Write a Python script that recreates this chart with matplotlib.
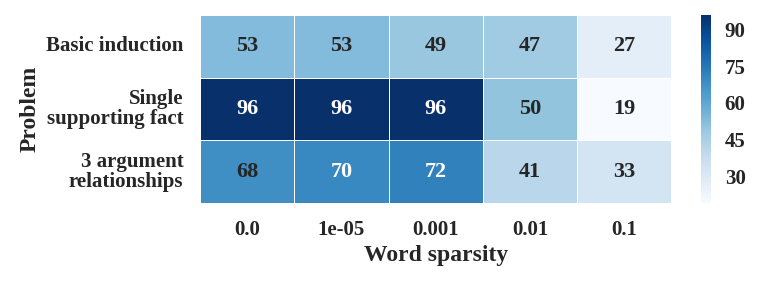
import matplotlib
matplotlib.use("Agg")
import matplotlib.pyplot as plt
import seaborn as sns
import numpy as np
import pandas as pd

problems = ["Basic induction", "Single\nsupporting fact", "3 argument\nrelationships"]
sparsity = ["0.0", "1e-05", "0.001", "0.01", "0.1"]
basic_induction = [53, 53, 49, 47, 27]
single_fact = [96, 96, 96, 50, 19]
three_arg = [68, 70, 72, 41, 33]

sns.set_theme(style="white")
plt.rcParams['font.family'] = ['Liberation Serif', 'DejaVu Serif']
plt.rcParams['font.weight'] = 'bold'
plt.rcParams['text.color'] = '#262626'

df = pd.DataFrame([basic_induction, single_fact, three_arg], index=problems, columns=sparsity)

fig = plt.figure(figsize=(7.61, 2.84), dpi=100)
ax = fig.add_axes([0.263, 0.285, 0.619, 0.662])
cax = fig.add_axes([0.921, 0.285, 0.013, 0.662])

sns.heatmap(df, ax=ax, cbar_ax=cax, cmap="Blues", annot=True, fmt="d",
            linewidths=0.7, linecolor="white", vmin=19, vmax=96,
            annot_kws={"fontsize": 16, "fontweight": "bold"},
            cbar_kws={"ticks": [30, 45, 60, 75, 90]})

# dark text on the lighter cells, white on the darkest ones
for t in ax.texts:
    t.set_color("white" if int(t.get_text()) > 69 else "#262626")

ax.set_xlabel("Word sparsity", fontsize=17, fontweight="bold", color="#262626")
ax.set_ylabel("Problem", fontsize=17, fontweight="bold", color="#262626")
ax.tick_params(axis="both", length=0, labelsize=15, colors="#262626", pad=12)
plt.setp(ax.get_yticklabels(), rotation=0, fontweight="bold", linespacing=1.0)
plt.setp(ax.get_xticklabels(), rotation=0, fontweight="bold")
cax.tick_params(length=0, labelsize=15, colors="#262626", pad=10)
plt.setp(cax.get_yticklabels(), fontweight="bold")
cax.collections[0].set_edgecolor("face")

fig.savefig("out.png", dpi=100)
